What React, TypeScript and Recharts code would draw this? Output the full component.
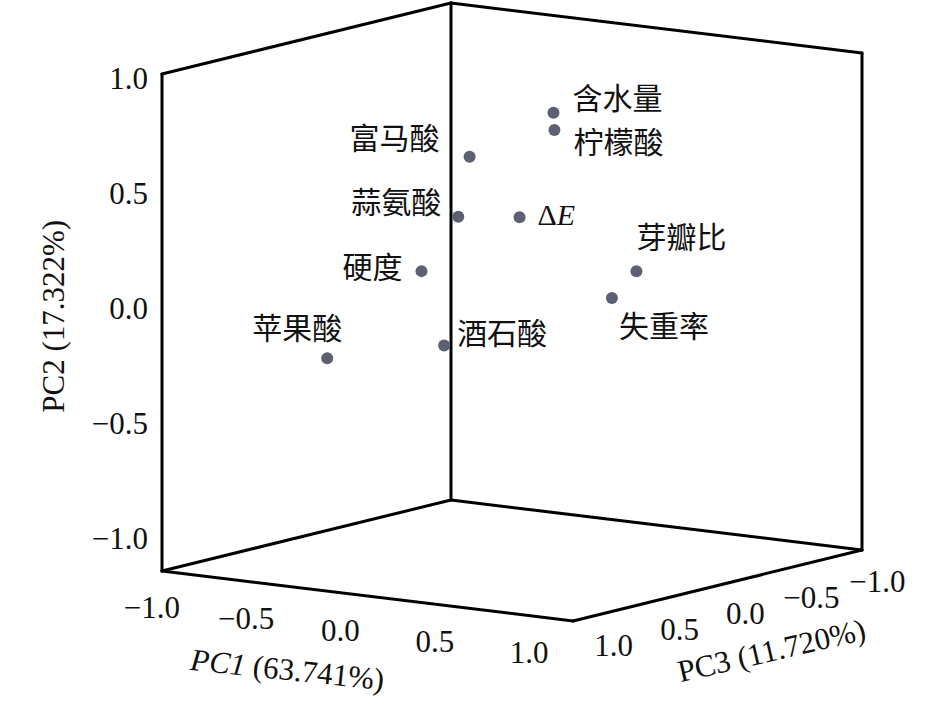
import React from 'react';
import { ScatterChart, Scatter, XAxis, YAxis, ReferenceLine } from 'recharts';

// PCA loadings (PC1, PC2, PC3) per variable
const variables = ['含水量', '柠檬酸', '富马酸', '蒜氨酸', 'ΔE', '芽瓣比', '硬度', '失重率', '苹果酸', '酒石酸'];
const pc1 = [0.15, 0.12, 0.09, 0.1, 0.11, 0.87, -0.06, 0.67, -0.7, 0.13];
const pc2 = [0.8, 0.715, 0.68, 0.435, 0.37, 0.24, 0.19, 0.09, -0.28, -0.1];
const pc3 = [-0.1, -0.15, 0.45, 0.55, 0.1, 0.3, 0.6, 0.2, 0.4, 0.7];

const axisTicks = [-1.0, -0.5, 0.0, 0.5, 1.0];
const pc1Range = [-1.09, 1.09];
const pc2Range = [-1.145, 1.013];
const pc3Range = [-1.095, 1.095];

const pc1Title = ['PC1', ' (63.741%)'];
const pc2Title = 'PC2 (17.322%)';
const pc3Title = 'PC3 (11.720%)';

// view: screen position of (PC1 min, PC2 min, PC3 max) and pixel step per unit along each axis
const ORIGIN = [162, 571];
const UX = [188.53, 22.94];
const UY = [0, -230.3];
const UZ = [-131.96, 32.42];

const project = (a: number, b: number, c: number) => {
  const u = a - pc1Range[0];
  const v = b - pc2Range[0];
  const w = c - pc3Range[1];
  return {
    sx: ORIGIN[0] + u * UX[0] + v * UY[0] + w * UZ[0],
    sy: ORIGIN[1] + u * UX[1] + v * UY[1] + w * UZ[1],
  };
};

const FONT = "'Liberation Serif', 'Noto Sans CJK SC', serif";
const DOT = '#5d6072';

const labelPos: Record<string, { dx: number; dy: number; anchor: 'start' | 'end' }> = {
  含水量: { dx: 19, dy: -14, anchor: 'start' },
  柠檬酸: { dx: 19, dy: 12, anchor: 'start' },
  富马酸: { dx: -30, dy: -18, anchor: 'end' },
  蒜氨酸: { dx: -17, dy: -14, anchor: 'end' },
  ΔE: { dx: 18, dy: -3, anchor: 'start' },
  芽瓣比: { dx: 0, dy: -34, anchor: 'start' },
  硬度: { dx: -19, dy: -4, anchor: 'end' },
  失重率: { dx: 7, dy: 29, anchor: 'start' },
  苹果酸: { dx: -75, dy: -30, anchor: 'start' },
  酒石酸: { dx: 13, dy: -12, anchor: 'start' },
};

const points = variables.map((name, i) => ({ name, ...project(pc1[i], pc2[i], pc3[i]) }));

const fmt = (t: number) => t.toFixed(1).replace('-', '\u2212');

const pc1Ticks = axisTicks.map((t) => ({ label: fmt(t), ...project(t, pc2Range[0], pc3Range[1]) }));
const pc2Ticks = axisTicks.map((t) => ({ label: fmt(t), ...project(pc1Range[0], t, pc3Range[1]) }));
const pc3Ticks = axisTicks.map((t) => ({ label: fmt(t), ...project(pc1Range[1], pc2Range[0], t) }));

// box corners
const [x0, x1] = pc1Range;
const [y0, y1] = pc2Range;
const [z0, z1] = pc3Range;
const corners: Record<string, { sx: number; sy: number }> = {
  A: project(x0, y1, z1),
  B: project(x0, y1, z0),
  C: project(x1, y1, z0),
  Ab: project(x0, y0, z1),
  Bb: project(x0, y0, z0),
  Cb: project(x1, y0, z0),
  Db: project(x1, y0, z1),
};
const edges = [
  ['A', 'Ab'], ['A', 'B'], ['B', 'C'], ['C', 'Cb'], ['B', 'Bb'],
  ['Ab', 'Bb'], ['Bb', 'Cb'], ['Ab', 'Db'], ['Db', 'Cb'],
];

const titles = [
  { key: 'pc1', ...project(0, y0, z1) },
  { key: 'pc2', ...project(x0, 0, z1) },
  { key: 'pc3', ...project(x1, y0, 0) },
];

const PointShape = (props: any) => {
  const { cx, cy, payload } = props;
  const lp = labelPos[payload.name];
  return (
    <g>
      <circle cx={cx} cy={cy} r={6} fill={DOT} />
      <text
        x={cx + lp.dx}
        y={cy + lp.dy}
        textAnchor={lp.anchor}
        dominantBaseline="central"
        fontSize={30}
        fontFamily={FONT}
        fill="#111"
      >
        {payload.name === 'ΔE' ? (
          <>
            <tspan>Δ</tspan>
            <tspan fontStyle="italic">E</tspan>
          </>
        ) : (
          payload.name
        )}
      </text>
    </g>
  );
};

const tickShape = (dx: number, dy: number, anchor: 'start' | 'middle' | 'end') => (props: any) => (
  <text
    x={props.cx + dx}
    y={props.cy + dy}
    textAnchor={anchor}
    dominantBaseline="central"
    fontSize={31}
    fontFamily={FONT}
    fill="#111"
  >
    {props.payload.label}
  </text>
);

const TitleShape = (props: any) => {
  const { cx, cy, payload } = props;
  const common = { textAnchor: 'middle' as const, dominantBaseline: 'central' as const, fontSize: 31, fontFamily: FONT, fill: '#111' };
  if (payload.key === 'pc1') {
    const x = cx - 80;
    const y = cy + 73;
    return (
      <text x={x} y={y} transform={`rotate(6, ${x}, ${y})`} {...common}>
        <tspan fontStyle="italic">{pc1Title[0]}</tspan>
        <tspan>{pc1Title[1]}</tspan>
      </text>
    );
  }
  if (payload.key === 'pc2') {
    const x = cx - 108;
    const y = cy + 9;
    return (
      <text x={x} y={y} transform={`rotate(-90, ${x}, ${y})`} {...common}>
        {pc2Title}
      </text>
    );
  }
  const x = cx + 54;
  const y = cy + 65;
  return (
    <text x={x} y={y} transform={`rotate(-13, ${x}, ${y})`} {...common}>
      {pc3Title}
    </text>
  );
};

export default function App() {
  return (
    <div style={{ position: 'absolute', left: 0, top: 0, background: '#fff' }}>
      <ScatterChart width={945} height={704} margin={{ top: 0, right: 0, bottom: 0, left: 0 }}>
        <XAxis type="number" dataKey="sx" domain={[0, 945]} hide allowDataOverflow />
        <YAxis type="number" dataKey="sy" domain={[0, 704]} reversed hide allowDataOverflow />
        <Scatter data={points} shape={PointShape} isAnimationActive={false} />
        {edges.map(([a, b]) => (
          <ReferenceLine
            key={a + b}
            segment={[
              { x: corners[a].sx, y: corners[a].sy },
              { x: corners[b].sx, y: corners[b].sy },
            ]}
            stroke="#000"
            strokeWidth={3}
            strokeLinecap="round"
            ifOverflow="visible"
          />
        ))}
        <Scatter data={pc1Ticks} shape={tickShape(-27, 34, 'middle')} isAnimationActive={false} />
        <Scatter data={pc2Ticks} shape={tickShape(-14, 1, 'end')} isAnimationActive={false} />
        <Scatter data={pc3Ticks} shape={tickShape(28, 28, 'middle')} isAnimationActive={false} />
        <Scatter data={titles} shape={TitleShape} isAnimationActive={false} />
      </ScatterChart>
    </div>
  );
}
